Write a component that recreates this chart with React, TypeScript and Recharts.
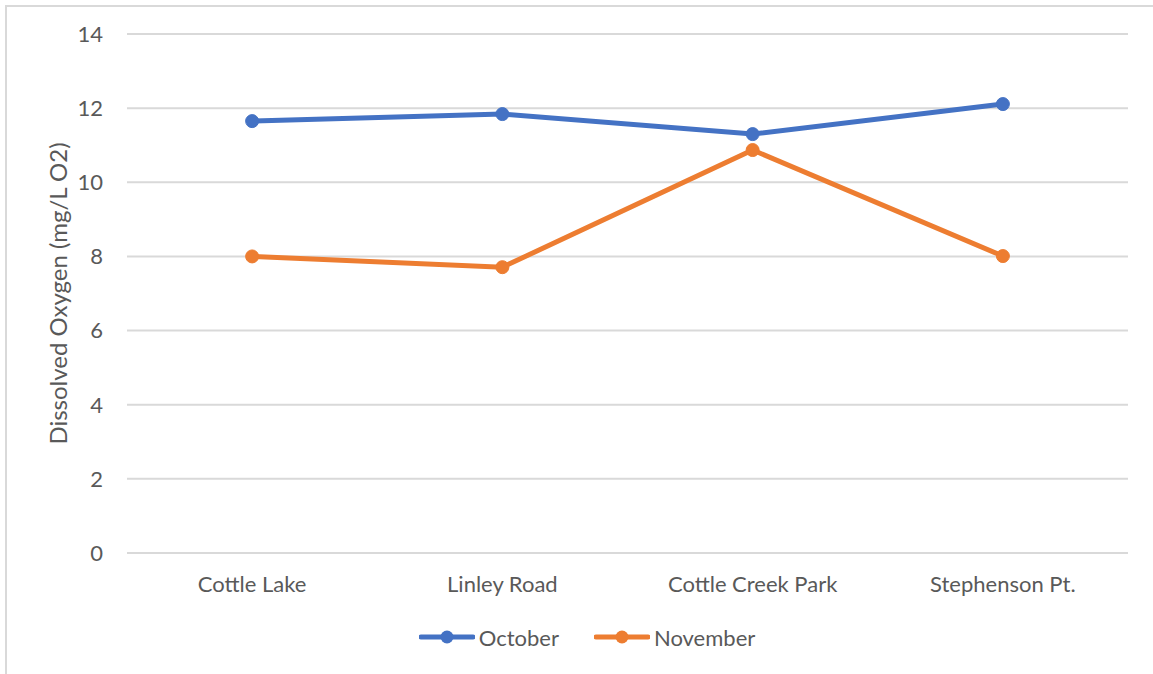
import { LineChart, Line, XAxis, YAxis, CartesianGrid, Legend } from "recharts";

const sites = ["Cottle Lake", "Linley Road", "Cottle Creek Park", "Stephenson Pt."];
const october = [11.65, 11.84, 11.3, 12.11];
const november = [8.0, 7.71, 10.87, 8.01];
const yTicks = [0, 2, 4, 6, 8, 10, 12, 14];

const series = [
  { key: "October", color: "#4472C4" },
  { key: "November", color: "#ED7D31" },
];

const data = sites.map((name, i) => ({
  name,
  October: october[i],
  November: november[i],
}));

const FONT = "Lato, 'Open Sans', sans-serif";
const TEXT = "#595959";

const LegendBox = () => (
  <div style={{ display: "flex", justifyContent: "center", alignItems: "center", height: 56, fontFamily: FONT, fontSize: 22, color: TEXT }}>
    {series.map((s, i) => (
      <div key={s.key} style={{ display: "flex", alignItems: "center", marginLeft: i ? 35 : 0 }}>
        <svg width={56} height={16} style={{ marginRight: 4 }}>
          <line x1={2} y1={8} x2={54} y2={8} stroke={s.color} strokeWidth={5} strokeLinecap="round" />
          <circle cx={28} cy={8} r={6.5} fill={s.color} />
        </svg>
        <span>{s.key}</span>
      </div>
    ))}
  </div>
);

const YLabel = (props: any) => {
  const vb = props.viewBox || {};
  const cx = 50;
  const cy = vb.y + vb.height / 2;
  return (
    <text x={cx} y={cy} transform={`rotate(-90, ${cx}, ${cy})`} textAnchor="middle" dominantBaseline="central" fill={TEXT} fontSize={24} fontFamily={FONT}>
      Dissolved Oxygen (mg/L O2)
    </text>
  );
};

export default function App() {
  return (
    <div style={{ position: "absolute", left: 5, top: 5, width: 1160, height: 680, border: "2px solid #d9d9d9", background: "#fff" }}>
      <LineChart width={1160} height={680} data={data} margin={{ top: 27, right: 39, left: 0, bottom: 22 }}>
        <CartesianGrid vertical={false} stroke="#d9d9d9" strokeWidth={2} />
        <XAxis
          dataKey="name"
          scale="band"
          axisLine={false}
          tickLine={false}
          tickSize={0}
          tickMargin={23}
          height={56}
          tick={{ fill: TEXT, fontSize: 22, fontFamily: FONT }}
        />
        <YAxis
          domain={[0, 14]}
          ticks={yTicks}
          axisLine={false}
          tickLine={false}
          tickSize={0}
          tickMargin={24}
          width={120}
          tick={{ fill: TEXT, fontSize: 22, fontFamily: FONT }}
          label={<YLabel />}
        />
        <Legend verticalAlign="bottom" wrapperStyle={{ left: 0, width: 1160 }} content={<LegendBox />} />
        {series.map((s) => (
          <Line
            key={s.key}
            dataKey={s.key}
            stroke={s.color}
            strokeWidth={5}
            dot={{ r: 6.5, fill: s.color, stroke: s.color, strokeWidth: 1 }}
            activeDot={false}
            isAnimationActive={false}
          />
        ))}
      </LineChart>
    </div>
  );
}
